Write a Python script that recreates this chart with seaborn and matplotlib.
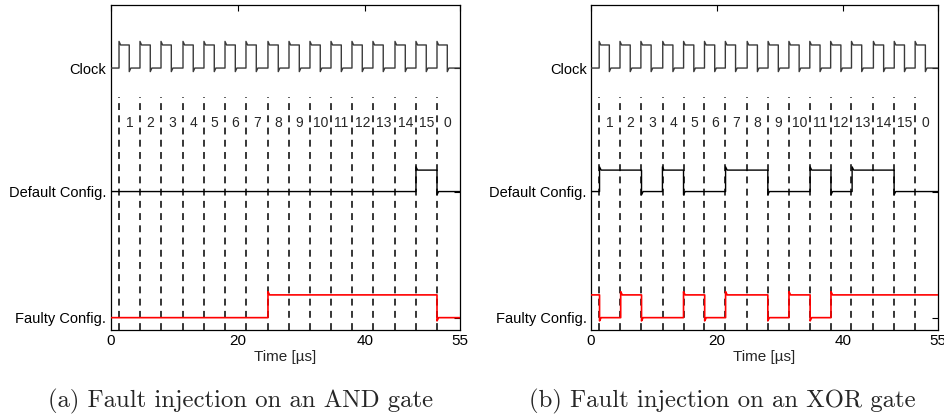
import numpy as np
import pandas as pd
import matplotlib
matplotlib.use("Agg")
import matplotlib.pyplot as plt
import seaborn as sns

# ---------------- data ----------------
time_max = 55
x_ticks = [0, 20, 40, 55]
x_ticklabels = ["0", "20", "40", "55"]

# clock rising / falling edge times [us]
clock_rise = [1.34, 4.64, 7.95, 11.41, 14.71, 18.02, 21.32, 24.78,
              28.09, 31.39, 34.70, 38.00, 41.30, 44.77, 48.07, 51.38]
clock_fall = [2.95, 6.26, 9.57, 13.02, 16.33, 19.64, 22.94, 26.40,
              29.71, 33.01, 36.32, 39.62, 42.92, 46.39, 49.69, 53.00]

# cycle labels written between the dashed lines
cycle_labels = ["1", "2", "3", "4", "5", "6", "7", "8",
                "9", "10", "11", "12", "13", "14", "15", "0"]

# transition times of the output traces [us] and their starting level (0 low / 1 high)
default_and_edges = [48.07, 51.38]
default_and_start = 0
faulty_and_edges = [24.78, 51.38]
faulty_and_start = 0

default_xor_edges = [1.40, 8.05, 11.36, 14.70, 21.36, 28.05, 34.75, 38.05, 41.40, 48.05]
default_xor_start = 0
faulty_xor_edges = [1.40, 4.75, 8.05, 14.70, 18.05, 21.36, 28.05, 31.40, 34.75, 38.05]
faulty_xor_start = 1

trace_names = ["Faulty Config.", "Default Config.", "Clock"]
captions = ["(a) Fault injection on an AND gate", "(b) Fault injection on an XOR gate"]

# ---------------- layout / style ----------------
CLK_LOW, CLK_HIGH = 8.06, 8.77
DEF_LOW, DEF_HIGH = 4.26, 4.92
FLT_LOW, FLT_HIGH = 0.38, 1.08
OVERSHOOT = 0.11
DASH_TOP = 7.17
LABEL_Y = 6.37

sns.set_style("white")
plt.rcParams["font.family"] = ["Liberation Sans", "DejaVu Sans"]


def square_wave(rises, falls, low, high, tmax, os=OVERSHOOT, settle=0.25):
    xs, ys = [0.0], [low]
    for r, f in zip(rises, falls):
        xs += [r, r, r + settle, f, f, f + settle]
        ys += [low, high + os, high, high, low - os, low]
    xs.append(tmax)
    ys.append(low)
    return pd.DataFrame({"t": xs, "v": ys})


def step_trace(edges, start, low, high, tmax, os=0.1, settle=0.25):
    level = start
    xs, ys = [0.0], [high if level else low]
    for e in edges:
        cur = high if level else low
        level = 1 - level
        new = high if level else low
        spike = new + (os if level else -os)
        xs += [e, e, e + settle]
        ys += [cur, spike, new]
    xs.append(tmax)
    ys.append(high if level else low)
    return pd.DataFrame({"t": xs, "v": ys})


fig = plt.figure(figsize=(9.44, 4.2), dpi=100)
ax_a = fig.add_axes([110.5 / 944, 90 / 420, 349.5 / 944, 325 / 420])
ax_b = fig.add_axes([590.7 / 944, 90 / 420, 347.3 / 944, 325 / 420])

panels = [
    (ax_a, default_and_edges, default_and_start, faulty_and_edges, faulty_and_start),
    (ax_b, default_xor_edges, default_xor_start, faulty_xor_edges, faulty_xor_start),
]

for ax, d_edges, d_start, f_edges, f_start in panels:
    # dashed cycle markers
    ax.vlines(clock_rise, 0, DASH_TOP, colors="black", linestyles=(0, (4.5, 3.5)), linewidth=1.1, zorder=1)
    # cycle numbers
    for i, lab in enumerate(cycle_labels):
        if i + 1 < len(clock_rise):
            xm = (clock_rise[i] + clock_rise[i + 1]) / 2
        else:
            xm = clock_rise[i] + (clock_rise[i] - clock_rise[i - 1]) / 2
        ax.text(xm, LABEL_Y, lab, ha="center", va="center", fontsize=10)

    clk = square_wave(clock_rise, clock_fall, CLK_LOW, CLK_HIGH, time_max)
    sns.lineplot(data=clk, x="t", y="v", ax=ax, sort=False, estimator=None,
                 color="#3a3a3a", linewidth=1.0, zorder=3)
    dft = step_trace(d_edges, d_start, DEF_LOW, DEF_HIGH, time_max)
    sns.lineplot(data=dft, x="t", y="v", ax=ax, sort=False, estimator=None,
                 color="black", linewidth=1.0, zorder=3)
    flt = step_trace(f_edges, f_start, FLT_LOW, FLT_HIGH, time_max)
    sns.lineplot(data=flt, x="t", y="v", ax=ax, sort=False, estimator=None,
                 color="#ff0000", linewidth=1.2, zorder=3)

    ax.set_xlim(0, time_max)
    ax.set_ylim(0, 10)
    ax.set_xticks(x_ticks)
    ax.set_xticklabels(x_ticklabels, fontsize=11)
    ax.set_yticks([FLT_LOW, DEF_LOW, CLK_LOW])
    ax.set_yticklabels(trace_names, fontsize=10.5)
    ax.set_xlabel("Time [µs]", fontsize=11, labelpad=1)
    ax.set_ylabel("")
    ax.tick_params(direction="in", top=True, right=True, length=4, width=0.8,
                   pad=3, colors="black")
    for s in ax.spines.values():
        s.set_visible(True)
        s.set_color("black")
        s.set_linewidth(0.9)

fig.text(241 / 944, 1 - 401 / 420, captions[0], ha="center", va="center",
         fontsize=17.8, family="cmr10")
fig.text(722 / 944, 1 - 401 / 420, captions[1], ha="center", va="center",
         fontsize=17.8, family="cmr10")

fig.savefig("out.png", dpi=100, facecolor="white")
